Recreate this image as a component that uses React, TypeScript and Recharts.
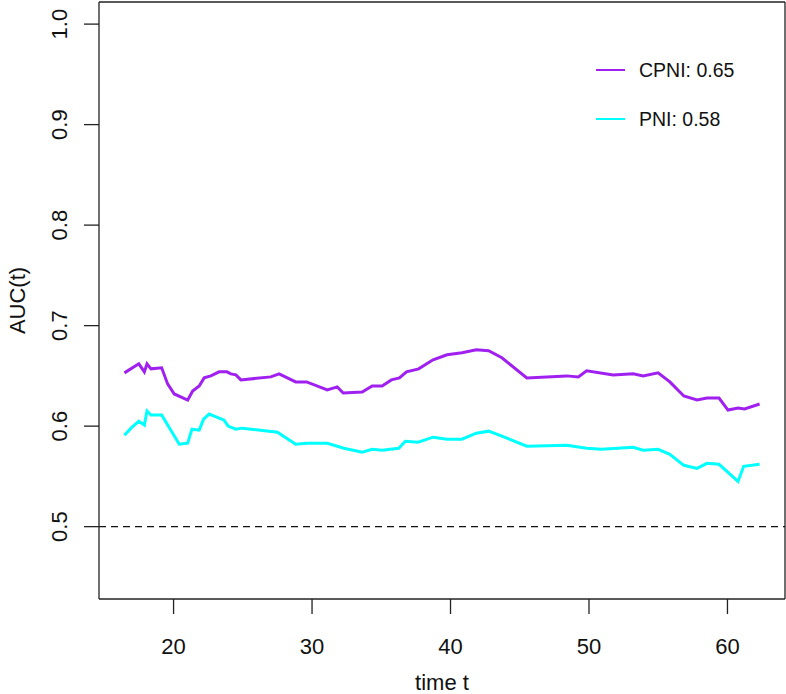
import { LineChart, Line, XAxis, YAxis, ReferenceLine, Legend } from 'recharts';

const cpniTime = [
  16.45, 17.49, 17.89, 18.08, 18.37, 19.14, 19.57, 20.05, 21.02, 21.38, 21.85, 22.21, 22.69, 23.29,
  23.85, 24.14, 24.5, 24.86, 27.02, 27.62, 28.82, 29.61, 31.1, 31.82, 32.25, 33.62, 34.34, 35.06,
  35.73, 36.31, 36.82, 37.7, 38.74, 39.75, 40.83, 41.86, 42.75, 43.71, 45.51, 48.39, 49.23, 49.83,
  51.75, 53.19, 53.91, 54.99, 55.84, 56.85, 57.8, 58.52, 59.39, 60.04, 60.76, 61.24, 62.32,
];
const cpniAuc = [
  0.653, 0.662, 0.654, 0.662, 0.657, 0.658, 0.642, 0.632, 0.626, 0.635, 0.64, 0.648, 0.65, 0.654,
  0.654, 0.652, 0.651, 0.646, 0.649, 0.652, 0.644, 0.644, 0.636, 0.639, 0.633, 0.634, 0.64, 0.64,
  0.646, 0.648, 0.654, 0.657, 0.666, 0.671, 0.673, 0.676, 0.675, 0.668, 0.648, 0.65, 0.649, 0.655,
  0.651, 0.652, 0.65, 0.653, 0.644, 0.63, 0.626, 0.628, 0.628, 0.616, 0.618, 0.617, 0.622,
];

const pniTime = [
  16.45, 16.93, 17.49, 17.89, 18.08, 18.37, 19.14, 20.41, 21.02, 21.33, 21.85, 22.17, 22.57, 23.65,
  23.94, 24.5, 24.93, 27.5, 28.82, 29.61, 31.1, 32.3, 33.62, 34.34, 35.06, 36.26, 36.74, 37.66,
  38.74, 39.75, 40.83, 41.86, 42.75, 43.71, 45.51, 48.39, 49.83, 50.91, 53.19, 53.91, 54.99, 55.84,
  56.85, 57.8, 58.52, 59.39, 60.04, 60.76, 61.17, 62.32,
];
const pniAuc = [
  0.591, 0.598, 0.605, 0.601, 0.615, 0.611, 0.611, 0.582, 0.583, 0.597, 0.596, 0.607, 0.612, 0.606,
  0.6, 0.597, 0.598, 0.594, 0.582, 0.583, 0.583, 0.578, 0.574, 0.577, 0.576, 0.578, 0.585, 0.584,
  0.589, 0.587, 0.587, 0.593, 0.595, 0.59, 0.58, 0.581, 0.578, 0.577, 0.579, 0.576, 0.577, 0.572,
  0.561, 0.558, 0.563, 0.562, 0.554, 0.545, 0.56, 0.562,
];

const xTicks = [20, 30, 40, 50, 60];
const yTicks = [0.5, 0.6, 0.7, 0.8, 0.9, 1.0];
const xDomain = [14.615, 64.155];
const yDomain = [0.428, 1.022];

const legendItems = [
  { name: 'CPNI: 0.65', color: '#A020F0' },
  { name: 'PNI: 0.58', color: '#00FFFF' },
];

const cpni = cpniTime.map((t, i) => ({ t, v: cpniAuc[i] }));
const pni = pniTime.map((t, i) => ({ t, v: pniAuc[i] }));

const FONT = '"Liberation Sans", Arial, sans-serif';
const AXIS = '#222';

const XTick = ({ x, y, payload }: any) => (
  <text x={x} y={y + 40} textAnchor="middle" fontSize={22} fontFamily={FONT} fill="#111">
    {payload.value}
  </text>
);

const YTick = ({ x, y, payload }: any) => (
  <text
    x={x - 17}
    y={y}
    transform={`rotate(-90, ${x - 17}, ${y})`}
    textAnchor="middle"
    fontSize={22}
    fontFamily={FONT}
    fill="#111"
  >
    {payload.value.toFixed(1)}
  </text>
);

const YLabel = ({ viewBox }: any) => {
  const cy = viewBox.y + viewBox.height / 2;
  return (
    <text x={25} y={cy} transform={`rotate(-90, 25, ${cy})`} textAnchor="middle" fontSize={22} fontFamily={FONT} fill="#111">
      AUC(t)
    </text>
  );
};

const LegendBox = () => (
  <div style={{ fontFamily: FONT, fontSize: 19.5, color: '#111' }}>
    {legendItems.map((it) => (
      <div key={it.name} style={{ display: 'flex', alignItems: 'center', height: 24, marginBottom: 25 }}>
        <span style={{ display: 'inline-block', width: 29, height: 2, background: it.color, marginRight: 14 }} />
        <span>{it.name}</span>
      </div>
    ))}
  </div>
);

export default function App() {
  return (
    <div style={{ position: 'absolute', left: 0, top: 0, background: '#fff' }}>
      <LineChart width={786} height={694} margin={{ top: 2, right: 1, left: 0, bottom: 0 }}>
        <XAxis
          type="number"
          dataKey="t"
          domain={xDomain}
          ticks={xTicks}
          allowDataOverflow
          height={95}
          tickSize={15}
          tickMargin={0}
          tick={<XTick />}
          axisLine={{ stroke: AXIS, strokeWidth: 1.3 }}
          tickLine={{ stroke: AXIS, strokeWidth: 1.3 }}
          label={{ value: 'time t', position: 'insideBottom', offset: 4, fontSize: 22, fontFamily: FONT, fill: '#111' }}
        />
        <YAxis
          type="number"
          domain={yDomain}
          ticks={yTicks}
          allowDataOverflow
          width={99}
          tickSize={15}
          tickMargin={0}
          tick={<YTick />}
          axisLine={{ stroke: AXIS, strokeWidth: 1.3 }}
          tickLine={{ stroke: AXIS, strokeWidth: 1.3 }}
          label={<YLabel />}
        />
        {/* box: top and right edges of the plot region */}
        <ReferenceLine y={yDomain[1]} stroke={AXIS} strokeWidth={1.3} ifOverflow="visible" />
        <ReferenceLine x={xDomain[1]} stroke={AXIS} strokeWidth={1.3} ifOverflow="visible" />
        <ReferenceLine y={0.5} stroke="#111" strokeWidth={1.3} strokeDasharray="7 5" />
        <Line
          data={cpni}
          dataKey="v"
          name="CPNI"
          type="linear"
          stroke="#A020F0"
          strokeWidth={3}
          dot={false}
          isAnimationActive={false}
        />
        <Line
          data={pni}
          dataKey="v"
          name="PNI"
          type="linear"
          stroke="#00FFFF"
          strokeWidth={3}
          dot={false}
          isAnimationActive={false}
        />
        <Legend
          layout="horizontal"
          align="center"
          verticalAlign="middle"
          content={<LegendBox />}
          wrapperStyle={{ position: 'absolute', left: 596, top: 58, width: 185 }}
        />
      </LineChart>
    </div>
  );
}
